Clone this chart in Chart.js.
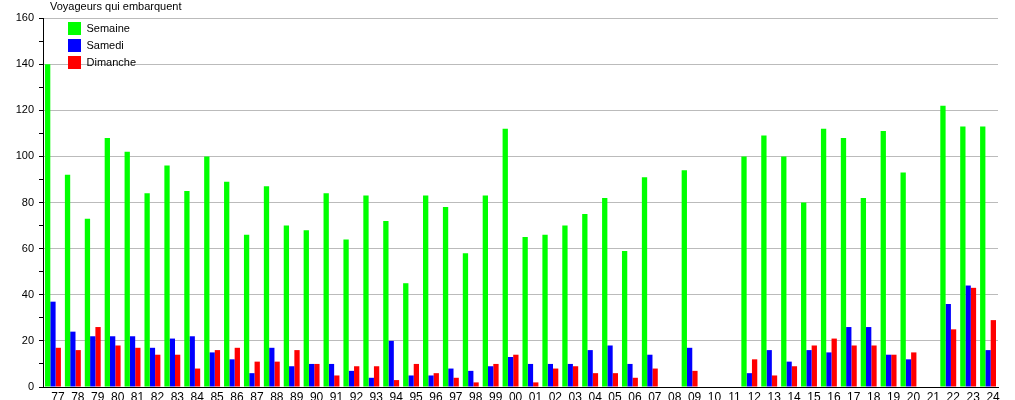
<!DOCTYPE html>
<html>
<head>
<meta charset="utf-8">
<script src="https://cdn.jsdelivr.net/npm/chart.js@4/dist/chart.umd.min.js"></script>
<style>
  html, body { margin: 0; padding: 0; background: #fff; }
  #wrap { width: 1015px; height: 400px; }
</style>
</head>
<body>
<div id="wrap"><canvas id="myChart"></canvas></div>
<script>
// years on the x axis
const years = ['77','78','79','80','81','82','83','84','85','86','87','88','89','90','91','92','93','94','95','96','97','98','99',
    '00','01','02','03','04','05','06','07','08','09','10','11','12','13','14','15','16','17','18','19','20','21','22','23','24'];

const semaine = [140,92,73,108,102,84,96,85,100,89,66,87,70,68,84,64,83,72,45,83,78,58,83,
    112,65,66,70,75,82,59,91,null,94,null,null,100,109,100,80,112,108,82,111,93,null,122,113,113];
const samedi = [37,24,22,22,22,17,21,22,15,12,6,17,9,10,10,7,4,20,5,5,8,7,9,
    13,10,10,10,16,18,10,14,null,17,null,null,6,16,11,16,15,26,26,14,12,null,36,44,16];
const dimanche = [17,16,26,18,17,14,14,8,16,17,11,11,16,10,5,9,9,3,10,6,4,2,10,
    14,2,8,9,6,6,4,8,null,7,null,null,12,5,9,18,21,18,18,14,15,null,25,43,29];

const yTitle = 'Voyageurs qui embarquent';
const fontFam = "'Liberation Sans', Arial, sans-serif";

// draws the axis title above the y axis and moves the legend inside the plot
const extras = {
    id: 'extras',
    afterLayout(chart) {
        if (chart.legend) {
            chart.legend.left = chart.chartArea.left + 21;
            chart.legend.top = chart.chartArea.top;
        }
    },
    afterDraw(chart) {
        const ctx = chart.ctx;
        ctx.save();
        ctx.font = '11px ' + fontFam;
        ctx.fillStyle = '#000';
        ctx.textBaseline = 'middle';
        ctx.textAlign = 'left';
        ctx.fillText(yTitle, 50, 7);
        ctx.restore();
    }
};

const ctx = document.getElementById('myChart').getContext('2d');
const myChart = new Chart(ctx, {
    type: 'bar',
    data: {
        labels: years,
        datasets: [
            { label: 'Semaine', data: semaine, backgroundColor: '#00ff00' },
            { label: 'Samedi', data: samedi, backgroundColor: '#0000ff' },
            { label: 'Dimanche', data: dimanche, backgroundColor: '#ff0000' }
        ]
    },
    options: {
        responsive: true,
        maintainAspectRatio: false,
        animation: false,
        datasets: {
            bar: { categoryPercentage: 0.8, barPercentage: 1.0 }
        },
        layout: { padding: { top: 18, right: 17, left: 0, bottom: 0 } },
        plugins: {
            legend: {
                position: 'chartArea',
                align: 'start',
                labels: {
                    boxWidth: 13,
                    boxHeight: 13,
                    padding: 4,
                    color: '#000',
                    font: { size: 11, family: fontFam }
                }
            },
            tooltip: { enabled: false }
        },
        scales: {
            x: {
                grid: { display: false, drawTicks: false, tickLength: 0 },
                border: { display: true, color: '#000', width: 1 },
                ticks: {
                    autoSkip: false,
                    maxRotation: 0,
                    labelOffset: 5,
                    padding: 3,
                    color: '#000',
                    font: { size: 12, family: fontFam }
                },
                afterFit(scale) { scale.height = 13; }
            },
            y: {
                min: 0,
                max: 160,
                border: { display: true, color: '#000', width: 1 },
                grid: {
                    color: (c) => (c.tick && c.tick.value % 20 === 0) ? '#bbbbbb' : 'rgba(0,0,0,0)',
                    tickColor: '#000',
                    tickLength: 4,
                    lineWidth: 1
                },
                ticks: {
                    stepSize: 10,
                    padding: 5,
                    color: '#000',
                    font: { size: 11, family: fontFam },
                    callback: (v) => v % 20 === 0 ? v : ''
                },
                afterFit(scale) { scale.width = 43; }
            }
        }
    },
    plugins: [extras]
});
</script>
</body>
</html>
